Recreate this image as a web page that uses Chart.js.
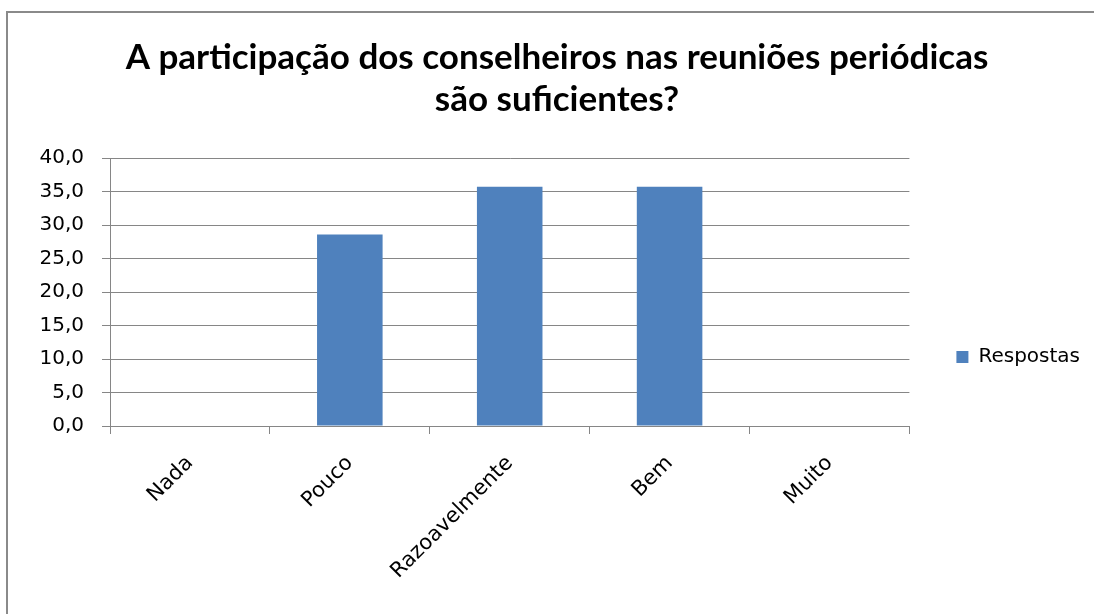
<!DOCTYPE html>
<html>
<head>
<meta charset="utf-8">
<script src="https://cdn.jsdelivr.net/npm/chart.js@4/dist/chart.umd.min.js"></script>
<style>
  html, body { margin: 0; padding: 0; background: #fff; }
  #wrap { width: 1094px; height: 614px; }
</style>
</head>
<body>
<div id="wrap"><canvas id="chart" width="1094" height="614"></canvas></div>
<script>
// chart data
const categories = ['Nada', 'Pouco', 'Razoavelmente', 'Bem', 'Muito'];
const respostas = [0, 28.6, 35.7, 35.7, 0];
const seriesName = 'Respostas';
const titleLines = ['A participação dos conselheiros nas reuniões periódicas', 'são suficientes?'];

const gray = '#868686';

// outer frame of the original picture (top and left edges only)
const framePlugin = {
    id: 'frame',
    beforeDraw(chart) {
        const ctx = chart.ctx;
        ctx.save();
        ctx.fillStyle = '#fff';
        ctx.fillRect(0, 0, chart.width, chart.height);
        ctx.strokeStyle = '#8a8a8a';
        ctx.lineWidth = 2;
        ctx.beginPath();
        ctx.moveTo(7, chart.height);
        ctx.lineTo(7, 12);
        ctx.lineTo(chart.width, 12);
        ctx.stroke();
        ctx.restore();
    }
};

// push the legend down a bit, like in the original
const legendShift = {
    id: 'legendShift',
    afterLayout(chart) {
        chart.legend.top += 50;
        chart.legend.bottom += 50;
    }
};

const ctx = document.getElementById('chart').getContext('2d');
const chart = new Chart(ctx, {
    type: 'bar',
    data: {
        labels: categories,
        datasets: [{
            label: seriesName,
            data: respostas,
            backgroundColor: '#4F81BD',
            borderWidth: 0,
            categoryPercentage: 1,
            barPercentage: 0.41
        }]
    },
    options: {
        responsive: false,
        animation: false,
        layout: { padding: { left: 24, right: 4, top: 0, bottom: 0 } },
        plugins: {
            title: {
                display: true,
                text: titleLines,
                color: '#000',
                font: { family: 'Lato', weight: 'bold', size: 35, lineHeight: '42px' },
                padding: { top: 37, bottom: 37 }
            },
            legend: {
                display: true,
                position: 'right',
                labels: {
                    boxWidth: 12,
                    boxHeight: 12,
                    padding: 47,
                    color: '#000',
                    font: { family: 'DejaVu Sans', size: 20 }
                }
            },
            tooltip: { enabled: false }
        },
        scales: {
            x: {
                grid: {
                    display: true,
                    offset: true,
                    drawOnChartArea: false,
                    color: gray,
                    tickLength: 8
                },
                border: { display: true, color: gray },
                ticks: {
                    minRotation: 45,
                    maxRotation: 45,
                    padding: 17,
                    color: '#000',
                    font: { family: 'DejaVu Sans', size: 21 }
                },
                afterFit(scale) { scale.height = 614 - 426; }
            },
            y: {
                min: 0,
                max: 40,
                ticks: {
                    stepSize: 5,
                    padding: 18,
                    color: '#000',
                    font: { family: 'DejaVu Sans', size: 20 },
                    callback: v => v.toFixed(1).replace('.', ',')
                },
                grid: { color: gray, tickLength: 8 },
                border: { display: true, color: gray },
                afterFit(scale) { scale.width = 110 - 24; }
            }
        }
    },
    plugins: [framePlugin, legendShift]
});
</script>
</body>
</html>
